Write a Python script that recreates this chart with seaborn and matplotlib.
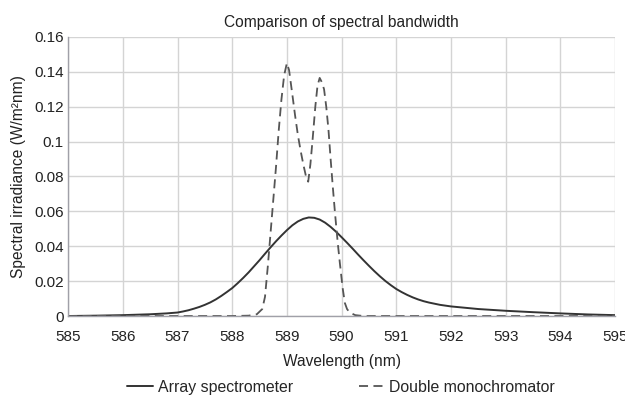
import numpy as np
import pandas as pd
import seaborn as sns
import matplotlib.pyplot as plt
from matplotlib.ticker import FuncFormatter

# Array spectrometer
array_nm = [585.0, 585.5, 586.0, 586.5, 586.8,
            587.0, 587.1, 587.2, 587.3, 587.4, 587.5, 587.6, 587.7, 587.8, 587.9,
            588.0, 588.1, 588.2, 588.3, 588.4, 588.5, 588.6, 588.7, 588.8, 588.9,
            589.0, 589.1, 589.2, 589.3, 589.4, 589.5, 589.6, 589.7, 589.8, 589.9,
            590.0, 590.1, 590.2, 590.3, 590.4, 590.5, 590.6, 590.7, 590.8, 590.9,
            591.0, 591.1, 591.2, 591.3, 591.4, 591.5, 591.6, 591.8,
            592.0, 592.5, 593.0, 593.5, 594.0, 594.5, 595.0]
array_irr = [0.0, 0.0002, 0.0005, 0.001, 0.0015,
             0.0020, 0.0026, 0.0033, 0.0042, 0.0052, 0.0064, 0.0078, 0.0095, 0.0115, 0.0137,
             0.0160, 0.0188, 0.0218, 0.0250, 0.0285, 0.0320, 0.0357, 0.0393, 0.0428, 0.0461,
             0.0492, 0.0520, 0.0542, 0.0557, 0.0565, 0.0563, 0.0553, 0.0535, 0.0511, 0.0483,
             0.0452, 0.0420, 0.0387, 0.0353, 0.0320, 0.0288, 0.0257, 0.0228, 0.0201, 0.0177,
             0.0155, 0.0137, 0.0121, 0.0107, 0.0095, 0.0085, 0.0077, 0.0064,
             0.0055, 0.0040, 0.0030, 0.0022, 0.0015, 0.0009, 0.0005]

# Double monochromator
double_nm = [585.0, 588.0, 588.3, 588.45, 588.55, 588.6, 588.65, 588.7, 588.75, 588.8,
             588.85, 588.9, 588.95, 589.0, 589.04, 589.1, 589.15, 589.2, 589.25, 589.3,
             589.35, 589.39, 589.43, 589.47, 589.52, 589.56, 589.6, 589.64, 589.68, 589.72,
             589.76, 589.8, 589.84, 589.88, 589.93, 589.97, 590.02, 590.06, 590.1, 590.15,
             590.25, 590.4, 595.0]
double_irr = [0.0, 0.0, 0.0002, 0.001, 0.004, 0.011, 0.028, 0.047, 0.066, 0.085,
              0.106, 0.124, 0.138, 0.145, 0.141, 0.127, 0.115, 0.104, 0.095, 0.087,
              0.080, 0.077, 0.087, 0.101, 0.120, 0.132, 0.1365, 0.134, 0.130, 0.120,
              0.107, 0.090, 0.074, 0.059, 0.042, 0.030, 0.016, 0.0075, 0.004, 0.002,
              0.0005, 0.0, 0.0]

sns.set_theme(style="whitegrid")
plt.rcParams["font.family"] = ["Liberation Sans", "DejaVu Sans"]

fig = plt.figure(figsize=(6.25, 3.97), dpi=100)
ax = fig.add_axes([0.109, 0.204, 0.875, 0.703])

sns.lineplot(x=array_nm, y=array_irr, ax=ax, color="#333333", linewidth=1.4,
             label="Array spectrometer")
sns.lineplot(x=double_nm, y=double_irr, ax=ax, color="#555555", linewidth=1.3,
             linestyle=(0, (5, 3)), label="Double monochromator")

ax.set_xlim(585, 595)
ax.set_ylim(0, 0.16)
ax.set_xticks(np.arange(585, 596, 1))
ax.set_yticks(np.arange(0, 0.161, 0.02))
ax.yaxis.set_major_formatter(FuncFormatter(lambda v, p: "%g" % round(v, 3)))
ax.grid(True, color="#d4d4d4", linewidth=1.0)
for s in ["top", "right"]:
    ax.spines[s].set_visible(False)
for s in ["left", "bottom"]:
    ax.spines[s].set_color("#a0a0a8")
    ax.spines[s].set_linewidth(1.0)
ax.tick_params(axis="both", labelsize=11, colors="#222222", length=0)
ax.tick_params(axis="x", pad=10)
ax.tick_params(axis="y", pad=3)

ax.set_title("Comparison of spectral bandwidth", fontsize=11.2, pad=7, color="#222222")
ax.set_xlabel("Wavelength (nm)", fontsize=11.2, labelpad=7, color="#222222")
ax.set_ylabel("Spectral irradiance (W/m²nm)", fontsize=11.2, labelpad=6, color="#222222")

handles, labels = ax.get_legend_handles_labels()
ax.get_legend().remove()
fig.legend(handles, labels, loc="lower center", bbox_to_anchor=(0.546, -0.03), ncol=2,
           frameon=False, fontsize=11.4, columnspacing=4.2, handlelength=1.6,
           handletextpad=0.3)

fig.savefig("out.png", dpi=100)
